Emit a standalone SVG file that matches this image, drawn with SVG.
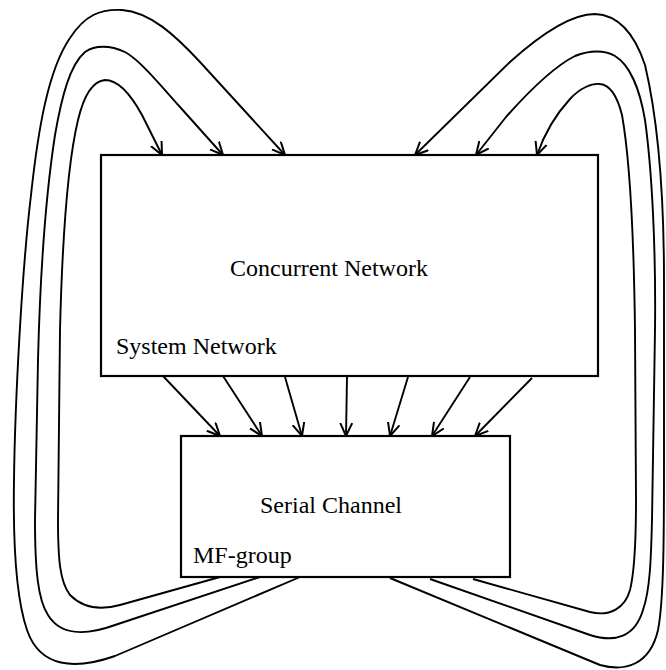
<svg xmlns="http://www.w3.org/2000/svg" width="666" height="670" viewBox="0 0 666 670">
<defs>
<style>
.box{fill:#fff;stroke:#000;stroke-width:2.2}
.lbl{font-family:"Liberation Serif","Times New Roman",serif;font-size:24px;fill:#000}
.c{fill:none;stroke:#000;stroke-width:1.9;stroke-linejoin:round;marker-end:url(#ah)}
</style>
<marker id="ah" markerUnits="userSpaceOnUse" markerWidth="15" markerHeight="15" refX="13" refY="6.5" orient="auto" viewBox="0 0 15 15">
<path d="M0,0.5 L13,6.5 L0,12.5" fill="none" stroke="#000" stroke-width="2"/>
</marker>
</defs>
<g id="connectors">
<path class="c" d="M300,577 L115,656 C75,670 40,668 27,630 C16,598 13,540 14,480 C15,400 22,270 31,195 C38,130 48,70 70,38 C85,15 100,9 122,10 C150,12 175,35 200,62 L285,155"/>
<path class="c" d="M260,577 L115,625 C85,636 60,635 48,615 C38,600 35,570 35,520 L38,360 C40,280 45,200 55,135 C62,95 70,65 85,52 C95,45 110,45 125,52 C140,60 162,87 180,107 L223,155"/>
<path class="c" d="M220,577 L120,605 C95,612 80,605 70,595 C60,582 58,560 58,520 L60,330 C62,250 66,170 78,120 C84,95 93,81 105,80 C118,80 130,93 142,115 L162,155"/>
<path class="c" d="M390,578 L600,665 C625,672 650,665 658,630 C664,600 664,530 664,460 L664,280 C664,200 658,120 645,65 C635,35 620,15 595,14 C570,14 540,35 510,62 L415,155"/>
<path class="c" d="M430,579 L590,635 C615,643 635,637 643,610 C650,590 651,560 652,520 L655,330 C656,250 652,170 645,120 C640,90 630,65 615,56 C605,50 590,50 575,56 C555,66 530,90 506,117 L476,155"/>
<path class="c" d="M473,579 L590,612 C610,617 625,608 630,590 C635,570 636,540 636,500 L635,330 C634,250 630,160 622,115 C617,95 610,85 600,84 C592,83 580,88 570,99 C558,112 545,132 537,155"/>
<path class="c" d="M163,376 L220,436"/>
<path class="c" d="M223,376 L262,436"/>
<path class="c" d="M285,377 L302,436"/>
<path class="c" d="M347,377 L346,436"/>
<path class="c" d="M408,377 L390,436"/>
<path class="c" d="M470,377 L432,436"/>
<path class="c" d="M532,378 L475,436"/>
</g>
<g id="system-network">
<rect class="box" x="101" y="155" width="497" height="221"/>
<text class="lbl" x="230" y="276">Concurrent Network</text>
<text class="lbl" x="116" y="354">System Network</text>
</g>
<g id="mf-group">
<rect class="box" x="181" y="436" width="329" height="141"/>
<text class="lbl" x="260" y="513">Serial Channel</text>
<text class="lbl" x="193" y="563">MF-group</text>
</g>
</svg>
